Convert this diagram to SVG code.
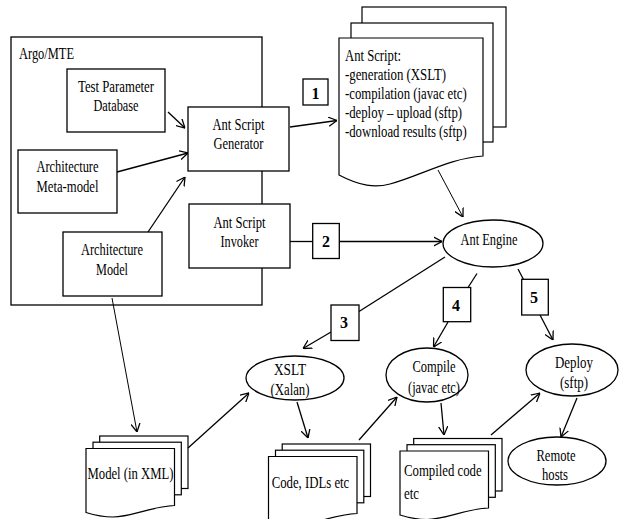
<svg xmlns="http://www.w3.org/2000/svg" xmlns:xlink="http://www.w3.org/1999/xlink" width="619" height="519" viewBox="0 0 619 519">
<style>
  .box{fill:#fff;stroke:#000;stroke-width:1.3}
  .page{fill:#fff;stroke:#000;stroke-width:1.2}
  .t{font-family:"Liberation Serif","Times New Roman",serif;font-size:16px;fill:#000}
  .c{text-anchor:middle}
  .n{font-weight:bold}
  .ln{fill:none;stroke:#000;stroke-width:1.3}
  .thin{stroke-width:1}
  .arr{marker-end:url(#open)}
</style>
<defs>
  <marker id="open" viewBox="0 0 10 12" refX="10" refY="6" markerWidth="8.5" markerHeight="10.2" markerUnits="userSpaceOnUse" orient="auto">
    <path d="M0,0.6 L10,6 L0,11.4" fill="none" stroke="#000" stroke-width="1.5"/>
  </marker>
  <!-- small three-page document stack, origin at the front page's top-left -->
  <g id="stack">
    <rect class="page" x="13.7" y="-12.5" width="88.3" height="52.5"/>
    <rect class="page" x="7" y="-6.3" width="88.3" height="52.6"/>
    <path class="page" d="M0,0 H88.5 V57 C65,58 45,68.5 27,68.5 C16,68.5 8,66.5 0,64 Z"/>
  </g>
</defs>
<rect width="619" height="519" fill="#fff"/>

<!-- tool container -->
<g id="argo-mte">
  <rect class="box" x="11" y="37" width="251" height="268"/>
  <text class="t" x="19" y="59" textLength="55" lengthAdjust="spacingAndGlyphs">Argo/MTE</text>
</g>

<g id="test-parameter-db">
  <rect class="box" x="67" y="69" width="98" height="63"/>
  <text class="t c" x="116" y="92" textLength="76" lengthAdjust="spacingAndGlyphs">Test Parameter</text>
  <text class="t c" x="116" y="111" textLength="45" lengthAdjust="spacingAndGlyphs">Database</text>
</g>

<g id="arch-metamodel">
  <rect class="box" x="18" y="150" width="99" height="63"/>
  <text class="t c" x="67.5" y="172" textLength="62" lengthAdjust="spacingAndGlyphs">Architecture</text>
  <text class="t c" x="67.5" y="192" textLength="62" lengthAdjust="spacingAndGlyphs">Meta-model</text>
</g>

<g id="script-generator">
  <rect class="box" x="188" y="107" width="101" height="64"/>
  <text class="t c" x="238.5" y="130" textLength="52" lengthAdjust="spacingAndGlyphs">Ant Script</text>
  <text class="t c" x="238.5" y="149" textLength="50" lengthAdjust="spacingAndGlyphs">Generator</text>
</g>

<g id="script-invoker">
  <rect class="box" x="189" y="204" width="101" height="64"/>
  <text class="t c" x="239.5" y="227.5" textLength="52" lengthAdjust="spacingAndGlyphs">Ant Script</text>
  <text class="t c" x="239.5" y="247" textLength="38" lengthAdjust="spacingAndGlyphs">Invoker</text>
</g>

<g id="arch-model">
  <rect class="box" x="63" y="232" width="99" height="64"/>
  <text class="t c" x="112" y="255" textLength="62" lengthAdjust="spacingAndGlyphs">Architecture</text>
  <text class="t c" x="112" y="274.5" textLength="32" lengthAdjust="spacingAndGlyphs">Model</text>
</g>

<!-- generated build script -->
<g id="ant-script">
  <rect class="page" x="362" y="7" width="144" height="120"/>
  <rect class="page" x="351" y="23" width="142" height="119"/>
  <path class="page" d="M339,38 H483 V156 C450,158 420,176 390,184 C375,188 360,186 339,175 Z"/>
  <text class="t" x="345" y="60.5" textLength="56" lengthAdjust="spacingAndGlyphs">Ant Script:</text>
  <text class="t" x="345" y="79.5" textLength="101" lengthAdjust="spacingAndGlyphs">-generation (XSLT)</text>
  <text class="t" x="345" y="99" textLength="121.7" lengthAdjust="spacingAndGlyphs">-compilation (javac etc)</text>
  <text class="t" x="345" y="118" textLength="117" lengthAdjust="spacingAndGlyphs">-deploy – upload (sftp)</text>
  <text class="t" x="345" y="137" textLength="121.7" lengthAdjust="spacingAndGlyphs">-download results (sftp)</text>
</g>

<g id="ant-engine">
  <ellipse class="box" cx="493" cy="243.5" rx="50" ry="23.5"/>
  <text class="t c" x="489" y="245" textLength="57" lengthAdjust="spacingAndGlyphs">Ant Engine</text>
</g>

<g id="xslt">
  <ellipse class="box" cx="295" cy="378" rx="49" ry="22"/>
  <text class="t c" x="290" y="375" textLength="32" lengthAdjust="spacingAndGlyphs">XSLT</text>
  <text class="t c" x="290" y="395" textLength="39" lengthAdjust="spacingAndGlyphs">(Xalan)</text>
</g>

<g id="compile">
  <ellipse class="box" cx="427" cy="375" rx="41" ry="27"/>
  <text class="t c" x="434" y="372" textLength="43" lengthAdjust="spacingAndGlyphs">Compile</text>
  <text class="t c" x="434" y="393" textLength="52" lengthAdjust="spacingAndGlyphs">(javac etc)</text>
</g>

<g id="deploy">
  <ellipse class="box" cx="572" cy="370" rx="46" ry="26"/>
  <text class="t c" x="574" y="368" textLength="38" lengthAdjust="spacingAndGlyphs">Deploy</text>
  <text class="t c" x="574" y="388" textLength="28" lengthAdjust="spacingAndGlyphs">(sftp)</text>
</g>

<g id="remote-hosts">
  <ellipse class="box" cx="557" cy="461" rx="49" ry="24"/>
  <text class="t c" x="556" y="461" textLength="39" lengthAdjust="spacingAndGlyphs">Remote</text>
  <text class="t c" x="555" y="480" textLength="26" lengthAdjust="spacingAndGlyphs">hosts</text>
</g>

<g id="model-xml">
  <use xlink:href="#stack" href="#stack" transform="translate(86,448.5)"/>
  <text class="t c" x="130.5" y="479" textLength="86" lengthAdjust="spacingAndGlyphs">Model (in XML)</text>
</g>

<g id="code-idls">
  <use xlink:href="#stack" href="#stack" transform="translate(268.5,456.5)"/>
  <text class="t c" x="310.5" y="488" textLength="77.6" lengthAdjust="spacingAndGlyphs">Code, IDLs etc</text>
</g>

<g id="compiled-code">
  <use xlink:href="#stack" href="#stack" transform="translate(400,451)"/>
  <text class="t" x="404" y="476" textLength="77.6" lengthAdjust="spacingAndGlyphs">Compiled code</text>
  <text class="t" x="404" y="499" textLength="15" lengthAdjust="spacingAndGlyphs">etc</text>
</g>

<!-- connectors -->
<g id="connectors">
  <line class="ln arr" x1="168" y1="112" x2="185" y2="128"/>
  <line class="ln arr" x1="117" y1="172" x2="188" y2="153"/>
  <line class="ln arr" x1="148" y1="232" x2="185" y2="177"/>
  <line class="ln arr" x1="290" y1="127" x2="337" y2="120.5"/>
  <line class="ln thin arr" x1="438" y1="170" x2="463" y2="217"/>
  <line class="ln" x1="290" y1="241.5" x2="313" y2="241.5"/>
  <line class="ln arr" x1="339" y1="241.5" x2="442" y2="241.5"/>
  <line class="ln" x1="445" y1="257" x2="359" y2="311.5"/>
  <line class="ln arr" x1="331" y1="332" x2="303" y2="348.5"/>
  <line class="ln" x1="477" y1="273.5" x2="468" y2="287.5"/>
  <line class="ln arr" x1="448" y1="322" x2="433.5" y2="347"/>
  <line class="ln" x1="518" y1="269" x2="523.5" y2="279.5"/>
  <line class="ln arr" x1="540" y1="315" x2="553" y2="340"/>
  <line class="ln arr" x1="297" y1="402" x2="308" y2="438"/>
  <line class="ln arr" x1="359" y1="440" x2="397" y2="397"/>
  <line class="ln arr" x1="441" y1="403" x2="444" y2="435"/>
  <line class="ln arr" x1="491" y1="435" x2="540" y2="393"/>
  <line class="ln arr" x1="577" y1="398" x2="561" y2="437"/>
  <line class="ln thin arr" x1="112" y1="298" x2="137" y2="432"/>
  <line class="ln arr" x1="188" y1="448" x2="249" y2="393"/>
</g>

<!-- numbered step labels -->
<g id="step-1">
  <rect class="box" x="303" y="79" width="25" height="26"/>
  <text class="t c n" x="315.5" y="98.5">1</text>
</g>
<g id="step-2">
  <rect class="box" x="312.7" y="223.5" width="26.6" height="35"/>
  <text class="t c n" x="326" y="246.5">2</text>
</g>
<g id="step-3">
  <rect class="box" x="331" y="305" width="28" height="35.5"/>
  <text class="t c n" x="344" y="327.5">3</text>
</g>
<g id="step-4">
  <rect class="box" x="443.3" y="287.5" width="27.4" height="34.2"/>
  <text class="t c n" x="456" y="310.5">4</text>
</g>
<g id="step-5">
  <rect class="box" x="521.7" y="279.3" width="26.6" height="35.7"/>
  <text class="t c n" x="534" y="303">5</text>
</g>
</svg>
